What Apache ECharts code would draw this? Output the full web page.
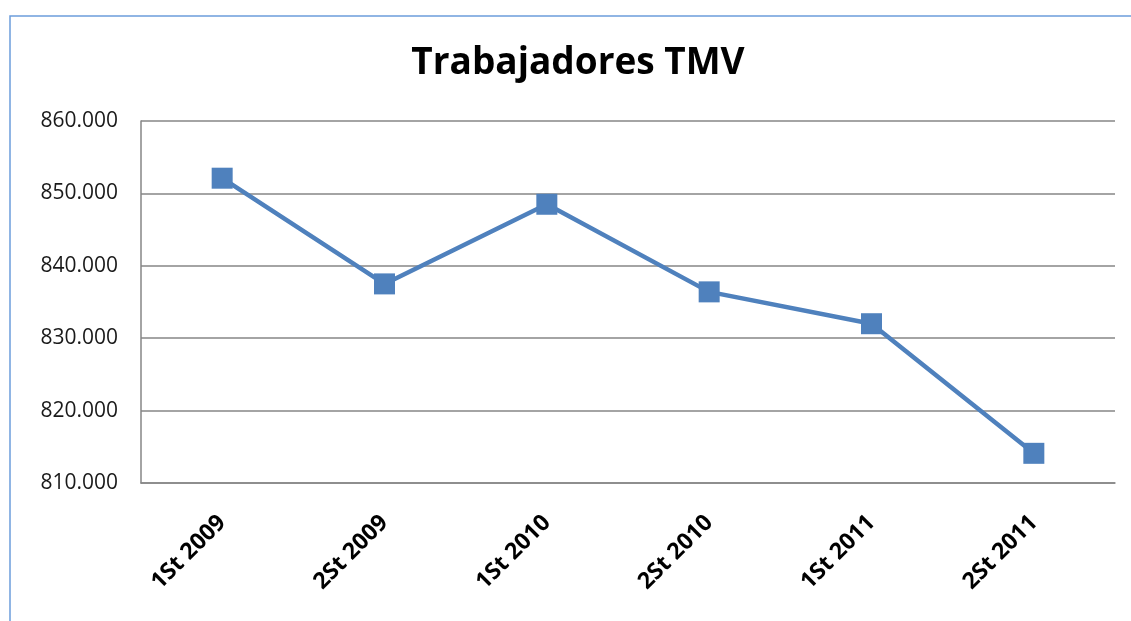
<!DOCTYPE html>
<html>
<head>
<meta charset="utf-8">
<script src="https://cdn.jsdelivr.net/npm/echarts@6/dist/echarts.min.js"></script>
<style>
  html, body { margin: 0; padding: 0; background: #ffffff; }
  #chart { width: 1131px; height: 621px; }
</style>
</head>
<body>
<div id="chart"></div>
<script>
// Semesters and number of workers
const categories = ['1St 2009', '2St 2009', '1St 2010', '2St 2010', '1St 2011', '2St 2011'];
const workers = [852100, 837500, 848500, 836400, 832000, 814100];
const yMin = 810000;
const yMax = 860000;
const yStep = 10000;

// Thousands separated with a dot: 860000 -> 860.000
function fmtThousands(v) {
  return String(Math.round(v)).replace(/\B(?=(\d{3})+(?!\d))/g, '.');
}

const chart = echarts.init(document.getElementById('chart'), null, { renderer: 'canvas' });
chart.setOption({
  backgroundColor: '#ffffff',
  animation: false,
  graphic: [{
    type: 'rect',
    shape: { x: 10, y: 16, width: 1140, height: 640 },
    style: { fill: 'none', stroke: '#6c9ddb', lineWidth: 1.5 },
    silent: true
  }],
  title: {
    text: 'Trabajadores TMV',
    left: 573,
    textAlign: 'center',
    top: 40,
    textStyle: { fontFamily: 'Open Sans', fontWeight: 'bold', fontSize: 37, color: '#000000' }
  },
  grid: { left: 141, top: 121, right: 16, bottom: 138, containLabel: false },
  xAxis: {
    type: 'category',
    data: categories,
    boundaryGap: true,
    axisLine: { show: true, lineStyle: { color: '#868686', width: 1.5 } },
    axisTick: { show: false },
    axisLabel: {
      rotate: 45,
      margin: 36,
      fontFamily: 'Open Sans',
      fontWeight: 'bold',
      fontSize: 23,
      color: '#000000'
    },
    splitLine: { show: false }
  },
  yAxis: {
    type: 'value',
    min: yMin,
    max: yMax,
    interval: yStep,
    axisLine: { show: true, lineStyle: { color: '#868686', width: 1.5 } },
    axisTick: { show: false },
    axisLabel: {
      margin: 23,
      fontFamily: 'Open Sans',
      fontSize: 21,
      color: '#1a1a1a',
      formatter: fmtThousands
    },
    splitLine: { show: true, lineStyle: { color: '#868686', width: 1.5 } }
  },
  series: [{
    type: 'line',
    data: workers,
    symbol: 'rect',
    symbolSize: 21,
    lineStyle: { color: '#4f81bd', width: 4.5 },
    itemStyle: { color: '#4f81bd' }
  }]
});
</script>
</body>
</html>
